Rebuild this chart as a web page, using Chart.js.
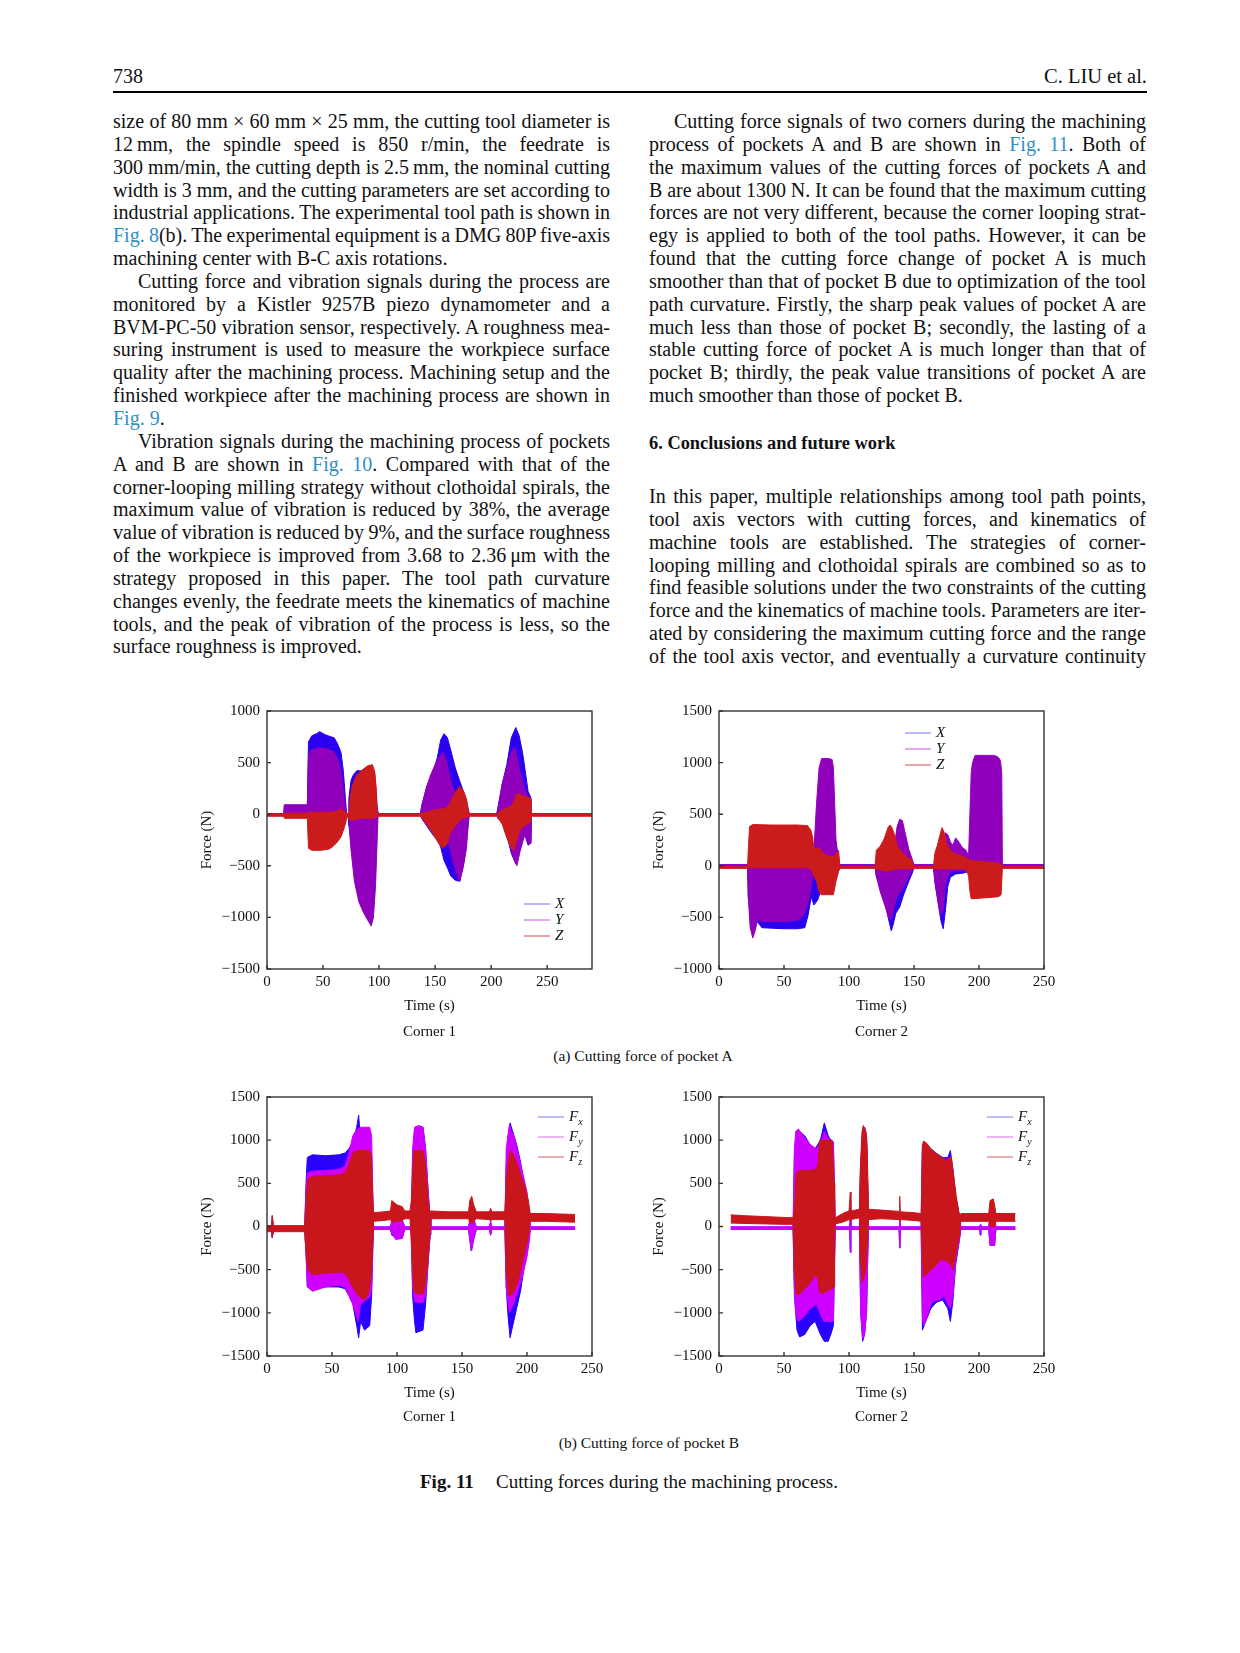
<!DOCTYPE html>
<html>
<head>
<meta charset="utf-8">
<title>Fig. 11 Cutting forces</title>
<script src="https://cdn.jsdelivr.net/npm/chart.js@4.4.1/dist/chart.umd.min.js"></script>
<style>
  html, body { margin: 0; padding: 0; background: #fff; }
  #page { position: relative; width: 1240px; height: 1653px; overflow: hidden;
          font-family: "Liberation Serif", "Times New Roman", serif; color: #111; }
  .abs { position: absolute; white-space: nowrap; }
  .head { font-size: 20px; line-height: 20px; top: 66px; }
  .rule { position: absolute; left: 113px; top: 91px; width: 1034px; height: 2px; background: #000; }
  .col { position: absolute; width: 498px; font-size: 20px; line-height: 22.85px; }
  .col div { white-space: nowrap; height: 22.85px; }
  .col .ind { padding-left: 25px; }
  .lnk { color: #2f8fc6; }
  .sec { font-weight: bold; font-size: 18.4px; line-height: 22.85px; }
  .cap { font-size: 15.5px; line-height: 18px; transform: translateX(-50%); }
  .figcap { font-size: 19px; line-height: 22px; }
  canvas { position: absolute; }
</style>
</head>
<body>
<div id="page">
  <div class="abs head" style="left:113px">738</div>
  <div class="abs head" style="right:93px; font-size:20.5px">C. LIU et al.</div>
  <div class="rule"></div>

  <div class="col" style="left:113px; top:110px">
    <div>size of 80 mm × 60 mm × 25 mm, the cutting tool diameter is</div>
    <div>12&#8201;mm, the spindle speed is 850 r/min, the feedrate is</div>
    <div>300 mm/min, the cutting depth is 2.5&#8201;mm, the nominal cutting</div>
    <div>width is 3 mm, and the cutting parameters are set according to</div>
    <div>industrial applications. The experimental tool path is shown in</div>
    <div><span class="lnk">Fig.&nbsp;8</span>(b). The experimental equipment is a DMG 80P five-axis</div>
    <div class="end">machining center with B-C axis rotations.</div>
    <div class="ind">Cutting force and vibration signals during the process are</div>
    <div>monitored by a Kistler 9257B piezo dynamometer and a</div>
    <div>BVM-PC-50 vibration sensor, respectively. A roughness mea-</div>
    <div>suring instrument is used to measure the workpiece surface</div>
    <div>quality after the machining process. Machining setup and the</div>
    <div>finished workpiece after the machining process are shown in</div>
    <div class="end"><span class="lnk">Fig.&nbsp;9</span>.</div>
    <div class="ind">Vibration signals during the machining process of pockets</div>
    <div>A and B are shown in <span class="lnk">Fig.&nbsp;10</span>. Compared with that of the</div>
    <div>corner-looping milling strategy without clothoidal spirals, the</div>
    <div>maximum value of vibration is reduced by 38%, the average</div>
    <div>value of vibration is reduced by 9%, and the surface roughness</div>
    <div>of the workpiece is improved from 3.68 to 2.36&#8201;μm with the</div>
    <div>strategy proposed in this paper. The tool path curvature</div>
    <div>changes evenly, the feedrate meets the kinematics of machine</div>
    <div>tools, and the peak of vibration of the process is less, so the</div>
    <div class="end">surface roughness is improved.</div>
  </div>

  <div class="col" style="left:649px; top:110px">
    <div class="ind">Cutting force signals of two corners during the machining</div>
    <div>process of pockets A and B are shown in <span class="lnk">Fig.&nbsp;11</span>. Both of</div>
    <div>the maximum values of the cutting forces of pockets A and</div>
    <div>B are about 1300 N. It can be found that the maximum cutting</div>
    <div>forces are not very different, because the corner looping strat-</div>
    <div>egy is applied to both of the tool paths. However, it can be</div>
    <div>found that the cutting force change of pocket A is much</div>
    <div>smoother than that of pocket B due to optimization of the tool</div>
    <div>path curvature. Firstly, the sharp peak values of pocket A are</div>
    <div>much less than those of pocket B; secondly, the lasting of a</div>
    <div>stable cutting force of pocket A is much longer than that of</div>
    <div>pocket B; thirdly, the peak value transitions of pocket A are</div>
    <div class="end">much smoother than those of pocket B.</div>
  </div>
  <div class="abs sec" style="left:649px; top:432px">6. Conclusions and future work</div>
  <div class="col" style="left:649px; top:485px">
    <div>In this paper, multiple relationships among tool path points,</div>
    <div>tool axis vectors with cutting forces, and kinematics of</div>
    <div>machine tools are established. The strategies of corner-</div>
    <div>looping milling and clothoidal spirals are combined so as to</div>
    <div>find feasible solutions under the two constraints of the cutting</div>
    <div>force and the kinematics of machine tools. Parameters are iter-</div>
    <div>ated by considering the maximum cutting force and the range</div>
    <div>of the tool axis vector, and eventually a curvature continuity</div>
  </div>

  <canvas id="chartA1" width="425" height="355" style="left:185px; top:690px"></canvas>
  <canvas id="chartA2" width="425" height="355" style="left:637px; top:690px"></canvas>
  <div class="abs cap" style="left:643px; top:1047px">(a) Cutting force of pocket A</div>

  <canvas id="chartB1" width="425" height="353" style="left:185px; top:1076px"></canvas>
  <canvas id="chartB2" width="425" height="353" style="left:637px; top:1076px"></canvas>
  <div class="abs cap" style="left:649px; top:1434px">(b) Cutting force of pocket B</div>

  <div class="abs figcap" style="left:420px; top:1471px"><b>Fig. 11</b></div>
  <div class="abs figcap" style="left:496px; top:1471px">Cutting forces during the machining process.</div>
</div>

<script>
// ---- data: [time (s), lower envelope (N), upper envelope (N)] ----
const xTicks = [0, 50, 100, 150, 200, 250];
const yTicksA1 = [-1500, -1000, -500, 0, 500, 1000];
const yTicksA2 = [-1000, -500, 0, 500, 1000, 1500];
const yTicksB = [-1500, -1000, -500, 0, 500, 1000, 1500];

const seriesA = ['X', 'Y', 'Z'];
const seriesB = ['F_x', 'F_y', 'F_z'];

// pocket A, corner 1
const a1X = [[0,-10,5],[15,-10,5],[15.5,-30,90],[36,-30,90],[37,-20,700],[40,-20,760],[44,-20,780],[47,-20,800],[52,-20,770],[57,-20,750],[60,-20,740],[63,-20,680],[66,-20,600],[68,-20,430],[70,-20,150],[71,-10,5],[72.5,-10,5],[73,-100,150],[75,-250,330],[77,-400,380],[80,-600,420],[85,-850,420],[90,-1000,420],[93,-1080,450],[96,-800,400],[98,-100,100],[99,-10,5],[137,-10,5],[138,-40,80],[143,-120,280],[148,-200,400],[152,-250,550],[155,-320,720],[158,-450,780],[161,-520,740],[164,-600,620],[168,-640,450],[172,-650,320],[176,-450,200],[179,-150,80],[180.5,-10,5],[205,-10,5],[206,-40,60],[210,-80,300],[214,-200,480],[218,-380,740],[222,-480,840],[225,-380,760],[228,-250,600],[230,-200,450],[233,-300,220],[235.5,-280,160],[236,-10,5],[290,-10,5]];
const a1Y = [[0,-10,5],[15,-10,5],[15.5,-30,90],[36,-30,90],[37,-30,550],[39,-30,620],[45,-30,640],[50,-30,640],[55,-30,630],[60,-30,600],[63,-30,540],[66,-30,420],[68,-30,250],[70,-30,60],[71,-10,5],[73,-10,5],[73.5,-150,40],[75,-350,40],[78,-650,40],[82,-850,40],[86,-950,40],[90,-1030,40],[93,-1080,40],[95,-1000,40],[97,-650,40],[99,-30,30],[99.5,-10,5],[137,-10,5],[138,-40,80],[142,-100,250],[146,-150,380],[150,-180,480],[154,-200,560],[157,-220,600],[160,-250,520],[163,-320,380],[166,-450,250],[169,-570,200],[172,-650,150],[175,-520,120],[178,-330,60],[180,-30,20],[180.5,-10,5],[205,-10,5],[206,-40,50],[210,-60,300],[214,-180,450],[218,-350,600],[221,-450,650],[223,-500,560],[226,-350,400],[230,-200,250],[233,-280,160],[235.5,-280,150],[236,-10,5],[290,-10,5]];
const a1Z = [[0,-20,5],[15,-20,5],[15.5,-40,10],[36,-40,10],[37,-330,20],[40,-350,20],[48,-350,20],[55,-340,20],[58,-320,20],[62,-280,30],[66,-220,50],[69,-130,30],[71,-50,10],[72,-20,5],[73,-40,5],[74,-60,150],[76,-60,270],[80,-50,380],[85,-40,430],[90,-40,470],[94,-40,480],[96,-40,420],[97.5,-30,250],[98.5,-20,5],[137,-20,5],[138,-30,10],[143,-100,20],[148,-190,40],[153,-280,50],[157,-330,50],[160,-300,60],[163,-200,100],[166,-140,170],[169,-100,230],[172,-60,270],[175,-40,230],[178,-30,150],[180,-20,5],[205,-20,5],[206,-30,10],[210,-100,40],[214,-230,60],[218,-330,80],[220,-350,120],[223,-250,200],[226,-150,190],[230,-110,170],[234,-90,160],[235.5,-60,150],[236,-20,5],[290,-20,5]];

// pocket A, corner 2
const a2X = [[0,-5,10],[22,-5,10],[22.5,-300,30],[25,-500,30],[30,-550,30],[33,-600,30],[50,-610,30],[60,-610,30],[66,-600,30],[68.5,-480,30],[71,-300,30],[73,-380,60],[76,-330,80],[78,-250,80],[80,-200,50],[88,-200,50],[92,-50,20],[93,-5,10],[120,-5,10],[121,-100,30],[125,-250,30],[128,-380,30],[131,-550,30],[132.5,-630,30],[134,-570,30],[136,-460,30],[139,-400,30],[142,-280,30],[146,-150,30],[149,-60,20],[150,-5,10],[165,-5,10],[166,-150,30],[169,-400,30],[171,-550,30],[172.5,-610,30],[174,-450,30],[176,-200,30],[178,-110,30],[182,-80,30],[188,-70,30],[191,-60,30],[192,-5,10],[250,-5,10]];
const a2Y = [[0,-5,10],[22,-5,10],[22.5,-300,20],[24,-600,20],[26,-700,20],[28,-620,20],[30,-500,20],[32,-540,20],[40,-540,20],[50,-540,20],[60,-530,20],[65,-480,20],[68,-380,30],[70,-270,60],[72,-100,100],[73,-30,150],[75,-30,600],[77,-30,950],[79,-30,1040],[84,-30,1040],[87,-30,1030],[88,-30,950],[89,-30,600],[90,-30,250],[92,-20,60],[93,-5,10],[120,-5,10],[121,-100,20],[124,-250,20],[128,-400,20],[131,-520,20],[133,-500,50],[135,-380,200],[137,-300,380],[139,-260,450],[141,-220,440],[143,-180,330],[146,-100,160],[149,-30,50],[150,-5,10],[165,-5,10],[166,-150,20],[168,-300,30],[170.5,-480,40],[172.5,-420,150],[174,-200,320],[176,-100,300],[178,-60,230],[180,-50,200],[182,-50,270],[184,-50,240],[187,-50,180],[190,-50,150],[192,-30,100],[193,-20,500],[194,-10,900],[195,-10,1000],[197,-10,1070],[205,-10,1070],[212,-10,1070],[215,-10,1050],[216.5,-10,1020],[217.5,-10,900],[218,-5,10],[250,-5,10]];
const a2Z = [[0,-25,-5],[22,-25,-5],[22.5,-20,150],[23.5,-20,380],[26,-20,400],[40,-20,395],[60,-20,395],[68,-20,390],[70.5,-30,350],[72,-60,280],[73,-100,160],[75,-150,170],[77,-250,180],[78.5,-280,150],[80,-280,120],[85,-280,90],[88,-280,90],[90,-150,110],[92,-50,150],[93,-25,-5],[120,-25,-5],[121,-30,150],[124,-40,190],[127,-50,260],[130,-50,370],[131.5,-50,395],[133,-40,370],[135,-30,300],[137,-30,200],[140,-30,140],[145,-30,80],[148,-30,60],[150,-25,-5],[165,-25,-5],[166,-30,120],[168,-30,200],[170,-30,300],[171.5,-30,370],[173,-30,330],[175,-30,220],[178,-30,150],[181,-30,120],[186,-30,100],[190,-30,80],[192,-100,60],[193,-250,60],[194,-320,50],[205,-310,40],[215,-300,25],[217,-280,20],[218,-25,-5],[250,-25,-5]];

// pocket B, corner 1
const b1X = [[0,-35,-5],[3.5,-35,-5],[4,-130,40],[5,-35,-5],[29,-35,-5],[30,-300,500],[31,-700,800],[35,-720,830],[45,-700,820],[55,-700,830],[60,-720,850],[63,-800,900],[66,-900,980],[69,-1150,1150],[70.5,-1290,1290],[72,-1100,1000],[75,-1200,980],[79,-1150,950],[80.5,-800,800],[81.5,-200,200],[82,-35,-5],[95,-35,-5],[96,-100,60],[100,-130,80],[104,-130,60],[106,-35,-5],[111,-35,-5],[112,-800,800],[113.5,-1100,1100],[114.5,-1230,1150],[120,-1200,1150],[122,-900,900],[124,-400,400],[125.5,-100,100],[126,-35,-5],[155,-35,-5],[157,-280,100],[159,-150,80],[161,-35,-5],[171,-35,-5],[172,-100,50],[173,-35,-5],[183,-35,-5],[184,-700,700],[185.5,-1050,1050],[187,-1290,1200],[189,-1150,1100],[192,-950,950],[195,-750,750],[198,-450,480],[201,-200,250],[202.5,-35,-5],[237,-35,-5]];
const b1Y = [[0,-35,-5],[3.5,-35,-5],[4,-130,130],[5,-35,-5],[29,-35,-5],[30,-300,400],[31,-700,620],[35,-750,640],[45,-700,650],[55,-680,660],[60,-700,700],[63,-800,850],[66,-900,1050],[68,-1000,1100],[70,-1100,1130],[72,-900,1150],[76,-850,1150],[79,-820,1150],[80.5,-700,1050],[81.5,-200,300],[82,-35,-5],[95,-35,-5],[96,-80,80],[99,-150,100],[104,-140,80],[106,-35,-5],[111,-35,-5],[112,-700,900],[113.5,-870,1150],[117,-880,1170],[120,-880,1150],[122,-800,900],[124,-400,400],[125.5,-100,100],[126,-35,-5],[155,-35,-5],[156.5,-200,150],[157.5,-280,200],[159,-150,100],[161,-35,-5],[171,-35,-5],[172,-100,60],[173,-35,-5],[183,-35,-5],[184,-700,900],[186.5,-1000,1180],[188,-950,1100],[190,-880,1050],[193,-750,850],[197,-550,600],[200,-350,400],[202,-150,150],[202.5,-35,-5],[237,-35,-5]];
const b1Z = [[0,-60,10],[3.5,-60,10],[4,-120,120],[5,-60,10],[29,-60,10],[30,-300,300],[31.5,-500,550],[35,-560,580],[45,-540,590],[55,-530,600],[60,-540,620],[63,-620,720],[66,-700,850],[70,-800,880],[75,-850,880],[78,-780,880],[80,-600,850],[81.5,-150,300],[82,60,160],[90,70,170],[95,80,180],[96,50,300],[100,60,250],[104,70,230],[106,90,180],[110,90,180],[111,-200,300],[113,-750,880],[115,-780,880],[120,-780,880],[122,-650,700],[124,-350,300],[125.5,-50,150],[126,90,180],[140,90,170],[155,90,170],[156,50,300],[157.5,30,350],[159,60,250],[161,90,170],[171,80,170],[172,60,210],[173,80,170],[183,80,170],[184,-500,500],[186,-800,800],[187.5,-800,880],[190,-750,820],[193,-650,700],[196,-450,560],[199,-250,430],[201,-120,300],[202.5,60,150],[215,60,150],[225,55,145],[237,50,140]];

// pocket B, corner 2
const b2X = [[9,-35,-5],[57,-35,-5],[58,-800,800],[60,-1200,1050],[62,-1280,1100],[66,-1250,1050],[70,-1150,950],[74,-1100,900],[78,-1250,1000],[81,-1330,1200],[84,-1330,1050],[86,-1250,1000],[88,-1150,980],[89,-300,300],[89.5,-35,-5],[100.5,-35,-5],[101,-300,100],[101.5,-35,-5],[108,-35,-5],[109,-1000,700],[110.5,-1330,1100],[112,-1250,1150],[113.5,-1000,1050],[114.5,-300,400],[115,-35,-5],[138.5,-35,-5],[139,-250,100],[139.5,-35,-5],[155.5,-35,-5],[156.5,-1200,950],[159,-1100,950],[163,-950,900],[167,-880,850],[172,-850,800],[176,-950,800],[178,-1100,880],[180,-850,650],[182,-450,350],[185,-150,120],[186,-35,-5],[200.5,-35,-5],[201,-100,20],[201.5,-35,-5],[207.5,-35,-5],[208.5,-220,100],[212,-220,100],[213,-35,-5],[228,-35,-5]];
const b2Y = [[9,-35,-5],[57,-35,-5],[58,-700,900],[59,-1000,1100],[61,-1100,1130],[65,-1050,1050],[70,-950,950],[75,-900,900],[79,-1050,1000],[81,-1100,1100],[85,-1100,1000],[88,-1100,980],[89,-300,300],[89.5,-35,-5],[100.5,-35,-5],[101,-300,100],[101.5,-35,-5],[108,-35,-5],[109,-1000,700],[110.5,-1300,1100],[112,-1250,1150],[113.5,-1000,1050],[114.5,-300,400],[115,-35,-5],[138.5,-35,-5],[139,-250,100],[139.5,-35,-5],[155.5,-35,-5],[156.5,-1050,900],[157.5,-1150,950],[160,-1050,900],[163,-900,850],[167,-850,800],[170,-850,780],[173,-800,750],[176,-900,780],[178,-950,800],[180,-800,650],[182,-400,350],[185,-150,120],[186,-35,-5],[200.5,-35,-5],[201,-100,20],[201.5,-35,-5],[207.5,-35,-5],[208.5,-220,100],[212,-220,100],[213,-35,-5],[228,-35,-5]];
const b2Z = [[9,40,135],[20,35,125],[35,30,115],[50,25,105],[57,25,100],[58,-500,200],[59.5,-790,620],[62,-780,650],[66,-720,650],[70,-655,650],[74,-560,660],[76,-600,700],[77.5,-770,1000],[80,-770,1000],[85,-730,1000],[87,-720,1000],[88.5,-700,500],[89,-100,100],[89.5,30,100],[95,50,150],[100,80,180],[100.5,80,180],[101,60,400],[101.5,80,180],[108,100,200],[108.5,-300,600],[110,-650,1100],[111,-620,1170],[113,-500,1100],[114,-200,900],[115,80,200],[125,90,190],[138.5,80,175],[139,60,350],[139.5,80,170],[150,70,160],[155.5,60,150],[156.5,-400,950],[157.5,-580,990],[160,-550,960],[163,-500,900],[167,-450,850],[171,-380,800],[175,-400,770],[178.5,-450,810],[180,-500,650],[182.5,-300,350],[185,-100,120],[186,60,150],[200,60,150],[207.5,60,150],[208.5,0,300],[211,0,320],[212,0,250],[213,60,150],[228,60,150]];

// ---- justify the text lines like the printed page ----
// word-spacing also applies to no-break spaces, so count them as gaps
document.querySelectorAll('.col > div').forEach(line => {
  if (line.classList.contains('end')) return;
  line.style.display = 'inline-block';
  const w = line.getBoundingClientRect().width;
  line.style.display = 'block';
  const gaps = line.textContent.trim().split(/[ \u00a0]+/).length - 1;
  if (gaps > 0) line.style.wordSpacing = ((497 - w) / gaps) + 'px';
});

// ---- charts ----
Chart.defaults.font.family = '"Liberation Serif", "Times New Roman", serif';
Chart.defaults.color = '#111';

const colorsA = ['#2b00ee', '#9000bc', '#cc1b1d'];
const colorsB = ['#2a00ff', '#cf00ff', '#c8161c'];
const legendColorsA = ['#9f9fff', '#d68ee6', '#e08888'];
const legendColorsB = ['#a8a8ff', '#e49cf0', '#e39090'];

const minus = v => String(v).replace('-', '\u2212');

const frame = {
  id: 'frame',
  afterDatasetsDraw(chart) {
    const {ctx, chartArea: a, scales: {x, y}} = chart;
    ctx.save();
    ctx.strokeStyle = '#333';
    ctx.lineWidth = 1.4;
    ctx.strokeRect(a.left, a.top, a.right - a.left, a.bottom - a.top);
    ctx.beginPath();
    x.ticks.forEach(t => {
      const px = x.getPixelForValue(t.value);
      ctx.moveTo(px, a.bottom);
      ctx.lineTo(px, a.bottom - 4);
    });
    y.ticks.forEach(t => {
      const py = y.getPixelForValue(t.value);
      ctx.moveTo(a.left, py);
      ctx.lineTo(a.left + 4, py);
    });
    ctx.stroke();
    ctx.restore();
  }
};

const bandLegend = {
  id: 'bandLegend',
  afterDraw(chart, args, o) {
    const {ctx, chartArea: a} = chart;
    ctx.save();
    o.labels.forEach((lab, i) => {
      const yy = a.top + o.top + i * o.gap;
      const x0 = a.left + o.left;
      ctx.strokeStyle = o.colors[i];
      ctx.lineWidth = 1.5;
      ctx.beginPath();
      ctx.moveTo(x0, yy);
      ctx.lineTo(x0 + 26, yy);
      ctx.stroke();
      const [main, sub] = lab.split('_');
      ctx.fillStyle = '#111';
      ctx.textBaseline = 'middle';
      ctx.textAlign = 'left';
      ctx.font = 'italic 15px "Liberation Serif"';
      ctx.fillText(main, x0 + 31, yy);
      if (sub) {
        const mw = ctx.measureText(main).width;
        ctx.font = 'italic 10px "Liberation Serif"';
        ctx.fillText(sub, x0 + 31 + mw, yy + 5);
      }
    });
    ctx.restore();
  }
};

function bands(rows, color, order) {
  return [
    {data: rows.map(r => ({x: r[0], y: r[2]})), borderColor: color, backgroundColor: color,
     borderWidth: 1, pointRadius: 0, tension: 0, fill: '+1', order},
    {data: rows.map(r => ({x: r[0], y: r[1]})), borderColor: color, backgroundColor: color,
     borderWidth: 1, pointRadius: 0, tension: 0, fill: false, order}
  ];
}

function makeChart(id, o) {
  const datasets = [];
  o.series.forEach((rows, i) => datasets.push(...bands(rows, o.colors[i], 3 - i)));
  return new Chart(document.getElementById(id), {
    type: 'line',
    data: {datasets},
    options: {
      responsive: false,
      animation: false,
      layout: {padding: {top: 21, right: 18, left: 0, bottom: 0}},
      plugins: {
        legend: {display: false},
        tooltip: {enabled: false},
        bandLegend: {labels: o.labels, colors: o.legendColors, left: o.legend[0], top: o.legend[1], gap: o.legend[2]}
      },
      scales: {
        x: {
          type: 'linear', min: 0, max: o.xMax,
          grid: {display: false, drawTicks: false},
          border: {display: false},
          afterBuildTicks: s => { s.ticks = xTicks.map(v => ({value: v})); },
          afterFit: s => { s.height = o.xAxisH; },
          ticks: {padding: 4, maxRotation: 0, autoSkip: false, font: {size: 15}, callback: minus},
          title: {display: true, text: ['Time (s)', o.corner], font: {size: 15, lineHeight: o.titleLH / 15}, padding: 0}
        },
        y: {
          min: o.yTicks[0], max: o.yTicks[o.yTicks.length - 1],
          grid: {display: false, drawTicks: false},
          border: {display: false},
          afterBuildTicks: s => { s.ticks = o.yTicks.map(v => ({value: v})); },
          afterFit: s => { s.width = 82; },
          ticks: {padding: 7, font: {size: 15}, callback: minus},
          title: {display: true, text: 'Force (N)', font: {size: 15}, padding: {top: 13, bottom: 0}}
        }
      }
    },
    plugins: [frame, bandLegend]
  });
}

makeChart('chartA1', {series: [a1X, a1Y, a1Z], colors: colorsA, legendColors: legendColorsA, labels: seriesA,
  xMax: 290, yTicks: yTicksA1, corner: 'Corner 1', xAxisH: 76, titleLH: 26, legend: [257, 193, 16]});
makeChart('chartA2', {series: [a2X, a2Y, a2Z], colors: colorsA, legendColors: legendColorsA, labels: seriesA,
  xMax: 250, yTicks: yTicksA2, corner: 'Corner 2', xAxisH: 76, titleLH: 26, legend: [186, 22, 16]});
makeChart('chartB1', {series: [b1X, b1Y, b1Z], colors: colorsB, legendColors: legendColorsB, labels: seriesB,
  xMax: 250, yTicks: yTicksB, corner: 'Corner 1', xAxisH: 73, titleLH: 24, legend: [271, 20, 20]});
makeChart('chartB2', {series: [b2X, b2Y, b2Z], colors: colorsB, legendColors: legendColorsB, labels: seriesB,
  xMax: 250, yTicks: yTicksB, corner: 'Corner 2', xAxisH: 73, titleLH: 24, legend: [268, 20, 20]});
</script>
</body>
</html>
